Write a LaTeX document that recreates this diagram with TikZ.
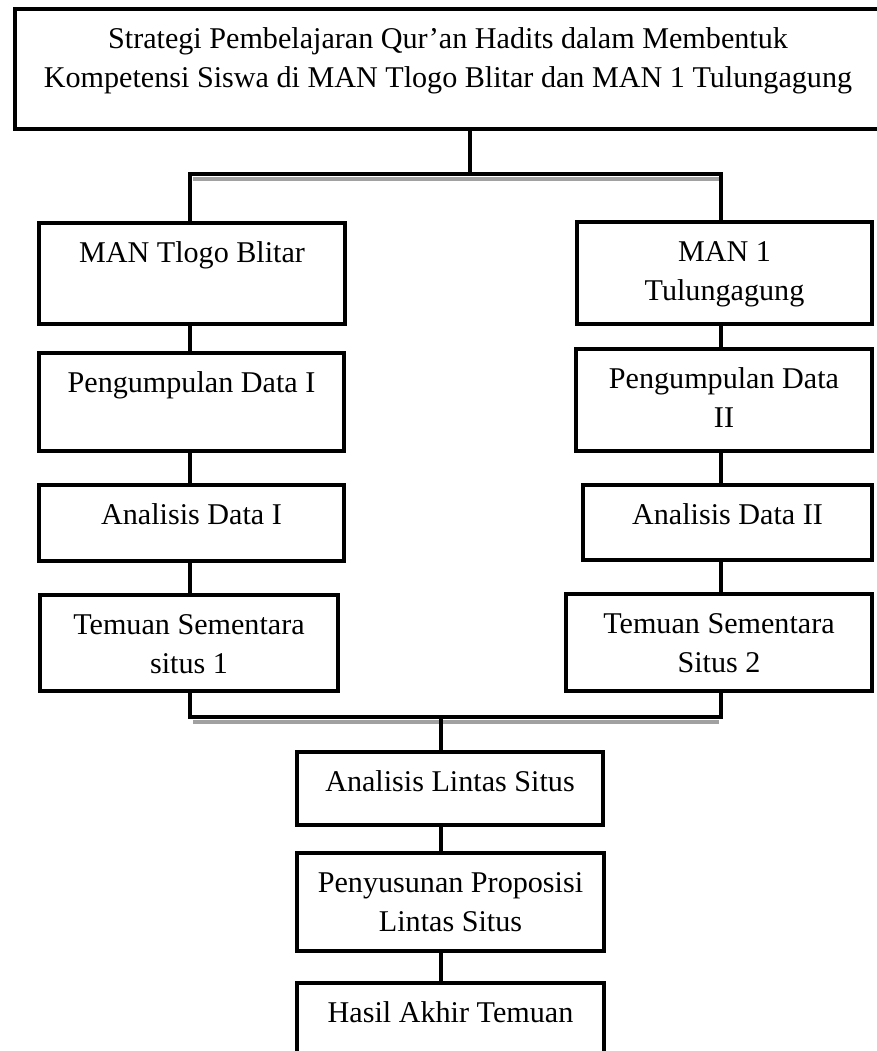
\documentclass[tikz,border=0pt]{standalone}
\usepackage{fontspec}
\setmainfont{Liberation Serif}
\usetikzlibrary{fit}
\tikzset{
  box/.style={draw, line width=3.4pt, inner sep=0pt},
  txt/.style={anchor=north, inner sep=0pt, align=center,
    font=\fontsize{22.6}{28.9}\selectfont},
  link/.style={line width=3.4pt},
  shade/.style={line width=3pt, color=black!37}
}
\begin{document}
\begin{tikzpicture}[x=0.75pt,y=-0.75pt]
\useasboundingbox (0,0) rectangle (877,1051);
\clip (0,0) rectangle (877,1051);

% judul
\node[box, fit={(15,9) (881,129)}] (top) {};
\node[txt] (top-t) at ([yshift=-10.9pt]top.north) {\strut Strategi Pembelajaran Qur’an Hadits dalam Membentuk\\Kompetensi Siswa di MAN Tlogo Blitar dan MAN 1 Tulungagung};

% situs 1
\node[box, fit={(39,223) (345,324)}] (mtb) {};
\node[txt] (mtb-t) at ([yshift=-10.9pt]mtb.north) {\strut MAN Tlogo Blitar};
\node[box, fit={(39,353) (344,451)}] (pd1) {};
\node[txt] (pd1-t) at ([yshift=-10.9pt]pd1.north) {\strut Pengumpulan Data I};
\node[box, fit={(39,485) (344,561)}] (ad1) {};
\node[txt] (ad1-t) at ([yshift=-10.9pt]ad1.north) {\strut Analisis Data I};
\node[box, fit={(40,595) (338,691)}] (ts1) {};
\node[txt] (ts1-t) at ([yshift=-10.9pt]ts1.north) {\strut Temuan Sementara\\situs 1};

% situs 2
\node[box, fit={(577,222) (872,324)}] (mt1) {};
\node[txt] (mt1-t) at ([yshift=-10.9pt]mt1.north) {\strut MAN 1\\Tulungagung};
\node[box, fit={(576,349) (872,451)}] (pd2) {};
\node[txt] (pd2-t) at ([yshift=-10.9pt]pd2.north) {\strut Pengumpulan Data\\II};
\node[box, fit={(583,485) (872,560)}] (ad2) {};
\node[txt] (ad2-t) at ([yshift=-10.9pt]ad2.north) {\strut Analisis Data II};
\node[box, fit={(566,594) (872,691)}] (ts2) {};
\node[txt] (ts2-t) at ([yshift=-10.9pt]ts2.north) {\strut Temuan Sementara\\Situs 2};

% lintas situs
\node[box, fit={(297,752) (603,825)}] (als) {};
\node[txt] (als-t) at ([yshift=-10.9pt]als.north) {\strut Analisis Lintas Situs};
\node[box, fit={(297,853) (604,951)}] (pps) {};
\node[txt] (pps-t) at ([yshift=-10.9pt]pps.north) {\strut Penyusunan Proposisi\\Lintas Situs};
\node[box, fit={(297,983) (604,1100)}] (hat) {};
\node[txt] (hat-t) at ([yshift=-10.9pt]hat.north) {\strut Hasil Akhir Temuan};

% titik cabang
\coordinate (jt) at (470,174);
\coordinate (lt) at (190,174);
\coordinate (rt) at (721,174);
\coordinate (jb) at (441,717);
\coordinate (lb) at (190,717);
\coordinate (rb) at (721,717);

% bayangan garis
\draw[shade] (193,178.5) -- (719,178.5);
\draw[shade] (193,721.5) -- (719,721.5);

% penghubung
\draw[link] (top.south -| jt) -- (jt);
\draw[link] (lt |- mtb.north) -- (lt) -- (rt) -- (rt |- mt1.north);
\draw[link] (lt |- mtb.south) -- (lt |- pd1.north);
\draw[link] (lt |- pd1.south) -- (lt |- ad1.north);
\draw[link] (lt |- ad1.south) -- (lt |- ts1.north);
\draw[link] (rt |- mt1.south) -- (rt |- pd2.north);
\draw[link] (rt |- pd2.south) -- (rt |- ad2.north);
\draw[link] (rt |- ad2.south) -- (rt |- ts2.north);
\draw[link] (lb |- ts1.south) -- (lb) -- (rb) -- (rb |- ts2.south);
\draw[link] (jb) -- (jb |- als.north);
\draw[link] (jb |- als.south) -- (jb |- pps.north);
\draw[link] (jb |- pps.south) -- (jb |- hat.north);
\end{tikzpicture}
\end{document}
